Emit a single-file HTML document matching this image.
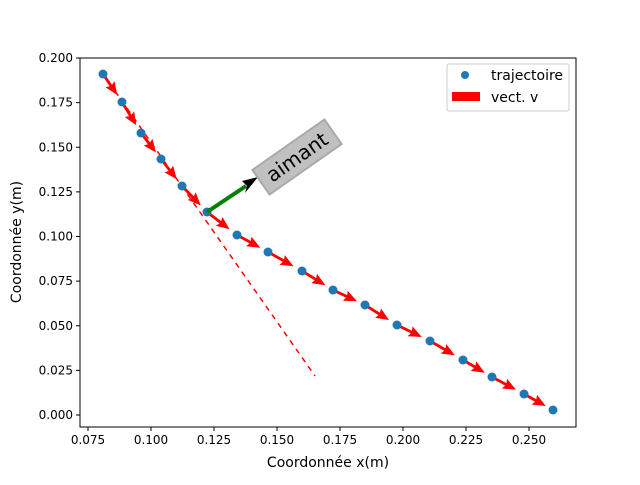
<!DOCTYPE html>
<html><head><meta charset="utf-8"><style>
body{margin:0;background:#fff}
text{font-family:"DejaVu Sans","Liberation Sans",sans-serif;fill:#000}
</style></head><body>
<svg id="s" width="640" height="480" xmlns="http://www.w3.org/2000/svg">
<rect width="640" height="480" fill="#fff"/>
<line x1="103" y1="74" x2="315" y2="376" stroke="#f00" stroke-width="1.5" stroke-dasharray="5.5,5"/>
<g id="arr"></g>
<g id="pts" fill="#1f77b4"></g>
<line x1="207" y1="212" x2="246" y2="186" stroke="#008000" stroke-width="4"/>
<polygon points="258,177 242,181 247,186 245,193" fill="#000"/>
<g transform="translate(297,157) rotate(-35)">
<rect x="-44" y="-15" width="88" height="30" fill="#c0c0c0" stroke="#a9a9a9" stroke-width="2"/>
<text x="0" y="7" text-anchor="middle" font-size="20" style="font-size:20px">aimant</text>
</g>
<rect x="80" y="58" width="496" height="369" fill="none" stroke="#000" stroke-width="1"/>
<g id="ax"></g>
<text x="328" y="467" text-anchor="middle" font-size="14" style="font-size:14px">Coordonnée x(m)</text>
<text transform="translate(21,242) rotate(-90)" text-anchor="middle" font-size="14" style="font-size:14px">Coordonnée y(m)</text>
<rect x="447" y="64" width="122" height="47" rx="2" fill="#fff" stroke="#ccc" stroke-width="1"/>
<circle cx="465" cy="75" r="4" fill="#1f77b4"/>
<text x="491" y="80" font-size="14" style="font-size:14px">trajectoire</text>
<rect x="452" y="92" width="28" height="9" fill="#f00"/>
<text x="491" y="102" font-size="14" style="font-size:14px">vect. v</text>
</svg>
<script>
var P=[[103,74],[122,102],[141,133],[161,159],[182,186],[207,212],[237,235],[268,252],[302,271],[333,290],[365,305],[397,325],[430,341],[463,360],[492,377],[524,394],[553,410]];
var ns="http://www.w3.org/2000/svg",a=document.getElementById('arr'),p=document.getElementById('pts'),ax=document.getElementById('ax');
for(var i=0;i<P.length-1;i++){var x=P[i][0],y=P[i][1],dx=P[i+1][0]-x,dy=P[i+1][1]-y,D=Math.hypot(dx,dy),L=D*0.75,ux=dx/D,uy=dy/D,nx=-uy,ny=ux,hl=13,w=1.4,hw=5.5;
var pts=[[0,w],[L-hl+1.5,w],[L-hl,hw],[L,0],[L-hl,-hw],[L-hl+1.5,-w],[0,-w]].map(function(q){return (x+ux*q[0]+nx*q[1]).toFixed(1)+','+(y+uy*q[0]+ny*q[1]).toFixed(1)}).join(' ');
var e=document.createElementNS(ns,'polygon');e.setAttribute('points',pts);e.setAttribute('fill','#f00');a.appendChild(e);}
P.forEach(function(q){var c=document.createElementNS(ns,'circle');c.setAttribute('cx',q[0]);c.setAttribute('cy',q[1]);c.setAttribute('r',4.5);p.appendChild(c);});
function ln(x1,y1,x2,y2){var l=document.createElementNS(ns,'line');l.setAttribute('x1',x1);l.setAttribute('y1',y1);l.setAttribute('x2',x2);l.setAttribute('y2',y2);l.setAttribute('stroke','#000');ax.appendChild(l);}
function tx(x,y,s,an){var t=document.createElementNS(ns,'text');t.setAttribute('x',x);t.setAttribute('y',y);t.setAttribute('text-anchor',an);t.setAttribute('font-size','12');t.setAttribute('style','font-size:12px');t.textContent=s;ax.appendChild(t);}
for(var k=0;k<8;k++){var xv=0.075+k*0.025,X=88+k*63;ln(X,427,X,431);tx(X,444,xv.toFixed(3),'middle');}
for(var k=0;k<9;k++){var yv=k*0.025,Y=415-k*44.625;ln(76,Y,80,Y);tx(73,Y+4,yv.toFixed(3),'end');}
</script>
</body></html>
